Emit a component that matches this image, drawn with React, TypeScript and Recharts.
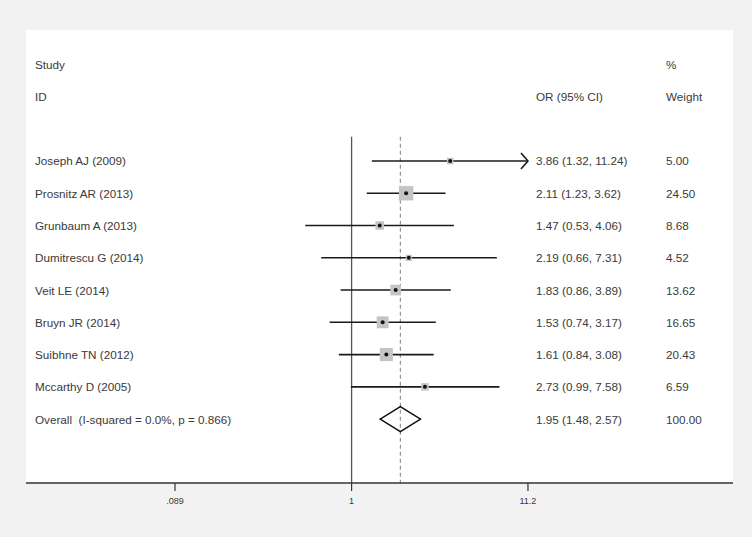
import React from "react";
import {
  ComposedChart,
  XAxis,
  YAxis,
  Scatter,
  ReferenceLine,
  ReferenceDot,
  CartesianGrid,
} from "recharts";

// ---- data ----
const studies = [
  "Joseph AJ (2009)",
  "Prosnitz AR (2013)",
  "Grunbaum A (2013)",
  "Dumitrescu G (2014)",
  "Veit LE (2014)",
  "Bruyn JR (2014)",
  "Suibhne TN (2012)",
  "Mccarthy D (2005)",
];
const orValues = [3.86, 2.11, 1.47, 2.19, 1.83, 1.53, 1.61, 2.73];
const lowerCI = [1.32, 1.23, 0.53, 0.66, 0.86, 0.74, 0.84, 0.99];
const upperCI = [11.24, 3.62, 4.06, 7.31, 3.89, 3.17, 3.08, 7.58];
const weights = [5.0, 24.5, 8.68, 4.52, 13.62, 16.65, 20.43, 6.59];

const overallLabel = "Overall  (I-squared = 0.0%, p = 0.866)";
const overallOR = 1.95;
const overallLower = 1.48;
const overallUpper = 2.57;
const overallWeight = 100.0;

const headerStudy = ["Study", "ID"];
const headerOR = ["", "OR (95% CI)"];
const headerWeight = ["%", "Weight"];

const axisTicks = [0.089, 1, 11.2];
const axisTickLabels = [".089", "1", "11.2"];

// ---- derived table ----
const lg = (v: number) => Math.log10(v);
const axisMaxLog = lg(axisTicks[axisTicks.length - 1]);
const fmt = (v: number) => v.toFixed(2);

const studyRows = studies.map((name, i) => ({
  name,
  x: lg(orValues[i]),
  y: i,
  lo: lg(lowerCI[i]),
  hi: Math.min(lg(upperCI[i]), axisMaxLog),
  clipped: lg(upperCI[i]) > axisMaxLog,
  w: weights[i],
}));
const overallRow = studies.length;

const textRows = [
  { x: 0, y: -3, a: headerStudy[0], b: headerOR[0], c: headerWeight[0] },
  { x: 0, y: -2, a: headerStudy[1], b: headerOR[1], c: headerWeight[1] },
  ...studies.map((s, i) => ({
    x: 0,
    y: i,
    a: s,
    b: `${fmt(orValues[i])} (${fmt(lowerCI[i])}, ${fmt(upperCI[i])})`,
    c: fmt(weights[i]),
  })),
  {
    x: 0,
    y: overallRow,
    a: overallLabel,
    b: `${fmt(overallOR)} (${fmt(overallLower)}, ${fmt(overallUpper)})`,
    c: fmt(overallWeight),
  },
];

// ---- layout / style ----
const FONT = "'Liberation Sans', Arial, sans-serif";
const TEXT = "#3a3a3a";
const X_DOMAIN: [number, number] = [-1.937, 2.269];
const Y_DOMAIN: [number, number] = [-4.06, 9.98];
const LINE_TOP = -0.75;
const COL_NAME = 35;
const COL_OR = 536;
const COL_W = 666;

const TextRowShape = (props: any) => {
  const { cy, payload } = props;
  const st = { whiteSpace: "pre" as const };
  return (
    <g fontFamily={FONT} fontSize={11.7} fill={TEXT}>
      <text x={COL_NAME} y={cy} dominantBaseline="central" textAnchor="start" style={st}>
        {payload.a}
      </text>
      {payload.b ? (
        <text x={COL_OR} y={cy} dominantBaseline="central" textAnchor="start" style={st}>
          {payload.b}
        </text>
      ) : null}
      <text x={COL_W} y={cy} dominantBaseline="central" textAnchor="start" style={st}>
        {payload.c}
      </text>
    </g>
  );
};

const BoxShape = (props: any) => {
  const { cx, cy, payload } = props;
  const s = 2.9 * Math.sqrt(payload.w);
  return <rect x={cx - s / 2} y={cy - s / 2} width={s} height={s} fill="#c4c4c4" />;
};

const DotShape = (props: any) => {
  const { cx, cy } = props;
  return <circle cx={cx} cy={cy} r={2} fill="#111" />;
};

const ArrowShape = (props: any) => {
  const { cx, cy } = props;
  return (
    <path
      d={`M${cx - 7},${cy - 8} L${cx},${cy} L${cx - 7},${cy + 8}`}
      fill="none"
      stroke="#1a1a1a"
      strokeWidth={1.6}
    />
  );
};

const oX = lg(overallOR);
const oL = lg(overallLower);
const oH = lg(overallUpper);
const dh = 0.39;
const diamondEdges = [
  [
    { x: oL, y: overallRow },
    { x: oX, y: overallRow - dh },
  ],
  [
    { x: oX, y: overallRow - dh },
    { x: oH, y: overallRow },
  ],
  [
    { x: oH, y: overallRow },
    { x: oX, y: overallRow + dh },
  ],
  [
    { x: oX, y: overallRow + dh },
    { x: oL, y: overallRow },
  ],
];

export default function App() {
  return (
    <div
      style={{
        position: "absolute",
        left: 0,
        top: 0,
        width: 755,
        height: 540,
        background: "#ffffff",
      }}
    >
      <div
        style={{
          position: "absolute",
          left: 0,
          top: 0,
          width: 752,
          height: 537,
          background: "#f2f2f2",
        }}
      />
      <div style={{ position: "absolute", left: 0, top: 0 }}>
        <ComposedChart
          width={755}
          height={540}
          margin={{ top: 30, right: 22, bottom: 27, left: 26 }}
        >
          <CartesianGrid fill="#ffffff" stroke="none" horizontal={false} vertical={false} />
          <XAxis
            type="number"
            dataKey="x"
            domain={X_DOMAIN}
            allowDataOverflow
            ticks={axisTicks.map(lg)}
            tickFormatter={(v: number, i: number) => axisTickLabels[i]}
            interval={0}
            height={30}
            axisLine={{ stroke: "#333", strokeWidth: 1.5 }}
            tickLine={{ stroke: "#333", strokeWidth: 1.2 }}
            tickSize={8}
            tickMargin={7}
            tick={{ fontSize: 9, fill: TEXT, fontFamily: FONT }}
          />
          <YAxis
            type="number"
            dataKey="y"
            domain={Y_DOMAIN}
            allowDataOverflow
            reversed
            hide
          />
          <ReferenceLine
            segment={[
              { x: 0, y: LINE_TOP },
              { x: 0, y: Y_DOMAIN[1] },
            ]}
            stroke="#555"
            strokeWidth={1.3}
          />
          <ReferenceLine
            segment={[
              { x: oX, y: LINE_TOP },
              { x: oX, y: Y_DOMAIN[1] },
            ]}
            stroke="#8a8a8a"
            strokeWidth={1.1}
            strokeDasharray="4 3"
          />
          <Scatter data={studyRows} shape={<BoxShape />} isAnimationActive={false} />
          {studyRows.map((r) => (
            <ReferenceLine
              key={"ci" + r.y}
              segment={[
                { x: r.lo, y: r.y },
                { x: r.hi, y: r.y },
              ]}
              stroke="#1a1a1a"
              strokeWidth={1.6}
            />
          ))}
          {studyRows
            .filter((r) => r.clipped)
            .map((r) => (
              <ReferenceDot
                key={"ar" + r.y}
                x={r.hi}
                y={r.y}
                shape={<ArrowShape />}
              />
            ))}
          {diamondEdges.map((seg, i) => (
            <ReferenceLine
              key={"dm" + i}
              segment={seg as any}
              stroke="#111"
              strokeWidth={1.5}
              strokeLinecap="round"
            />
          ))}
          <Scatter data={studyRows} shape={<DotShape />} isAnimationActive={false} />
          <Scatter data={textRows} shape={<TextRowShape />} isAnimationActive={false} />
        </ComposedChart>
      </div>
    </div>
  );
}
